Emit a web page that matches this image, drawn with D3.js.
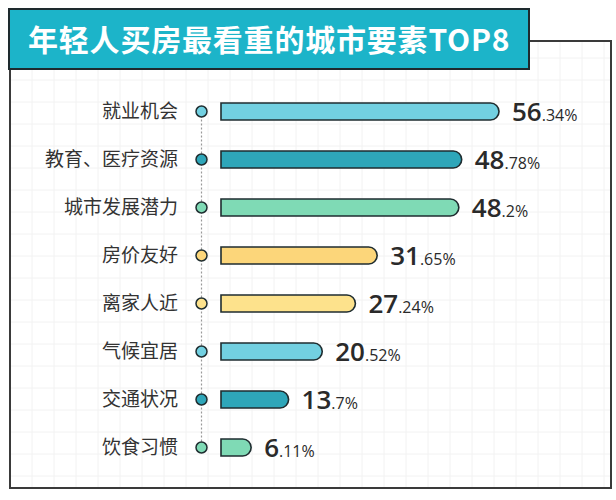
<!DOCTYPE html>
<html>
<head>
<meta charset="utf-8">
<script src="https://cdn.jsdelivr.net/npm/d3@7/dist/d3.min.js"></script>
<style>
  html, body { margin: 0; padding: 0; background: #fff; }
  svg { display: block; }
</style>
</head>
<body>
<svg id="chart" width="616" height="500"></svg>
<script>
const title = "年轻人买房最看重的城市要素TOP8";
const categories = ["就业机会", "教育、医疗资源", "城市发展潜力", "房价友好", "离家人近", "气候宜居", "交通状况", "饮食习惯"];
const values = [56.34, 48.78, 48.2, 31.65, 27.24, 20.52, 13.7, 6.11];
const colors = ["#72d0e1", "#2ea6b9", "#7fdab5", "#fcd67a", "#fde28c", "#72d0e1", "#2ea6b9", "#7fdab5"];

const svg = d3.select("#chart");
const frame = {x: 10, y: 41, w: 601, h: 447};

// grid background
const grid = svg.append("g");
const gx = d3.range(frame.x + 22, frame.x + frame.w, 22);
const gy = d3.range(frame.y + 17, frame.y + frame.h, 22);
grid.selectAll("line.v").data(gx).join("line")
  .attr("x1", d => d).attr("x2", d => d)
  .attr("y1", frame.y).attr("y2", frame.y + frame.h)
  .attr("stroke", "#f2f2f2").attr("stroke-width", 1);
grid.selectAll("line.h").data(gy).join("line")
  .attr("x1", frame.x).attr("x2", frame.x + frame.w)
  .attr("y1", d => d).attr("y2", d => d)
  .attr("stroke", "#f2f2f2").attr("stroke-width", 1);

// frame
svg.append("rect")
  .attr("x", frame.x).attr("y", frame.y)
  .attr("width", frame.w).attr("height", frame.h)
  .attr("fill", "none").attr("stroke", "#3a3a3a").attr("stroke-width", 2);

// title box
svg.append("rect")
  .attr("x", 9).attr("y", 9).attr("width", 520).attr("height", 60)
  .attr("fill", "#1cb4c9").attr("stroke", "#1e2a2e").attr("stroke-width", 2);
svg.append("text")
  .attr("x", 28).attr("y", 51)
  .attr("font-family", "'Noto Sans CJK SC', sans-serif")
  .attr("font-weight", 700).attr("font-size", 30)
  .attr("letter-spacing", 0.8)
  .attr("fill", "#fff")
  .text(title);

// scales
const x = d3.scaleLinear().domain([0, 56.34]).range([221, 499]);
const y = d3.scaleBand().domain(categories).range([87.5, 471.5]);
const cy = d => y(d) + y.bandwidth() / 2;
const barH = 17;
const r = barH / 2;
const dotX = 201.5;

// dotted connector
svg.append("line")
  .attr("x1", dotX).attr("x2", dotX)
  .attr("y1", cy(categories[0])).attr("y2", cy(categories[categories.length - 1]))
  .attr("stroke", "#999").attr("stroke-width", 1.2)
  .attr("stroke-dasharray", "2,2");

const rows = svg.append("g").selectAll("g").data(categories).join("g");

// category labels
rows.append("text")
  .attr("x", 178).attr("y", d => cy(d))
  .attr("dy", "0.36em")
  .attr("text-anchor", "end")
  .attr("font-family", "'Noto Sans CJK SC', sans-serif")
  .attr("font-size", 19).attr("fill", "#333")
  .text(d => d);

// dots
rows.append("circle")
  .attr("cx", dotX).attr("cy", d => cy(d)).attr("r", 5.5)
  .attr("fill", (d, i) => colors[i])
  .attr("stroke", "#1f2d30").attr("stroke-width", 1.5);

// bars: square left, rounded right
rows.append("path")
  .attr("d", (d, i) => {
    const x0 = x(0), x1 = x(values[i]), yc = cy(d);
    const top = yc - r, bot = yc + r;
    const xr = Math.max(x0, x1 - r);
    return `M${x0},${top}H${xr}A${r},${r} 0 0 1 ${xr},${bot}H${x0}Z`;
  })
  .attr("fill", (d, i) => colors[i])
  .attr("stroke", "#1f2d30").attr("stroke-width", 1.6);

// value labels
const vt = rows.append("text")
  .attr("x", (d, i) => x(values[i]) + 13)
  .attr("y", d => cy(d) + 9)
  .attr("font-family", "'Open Sans', 'Noto Sans', sans-serif")
  .attr("fill", "#2a2a2a");
vt.append("tspan")
  .attr("font-size", 26).attr("font-weight", 600)
  .text((d, i) => String(values[i]).split(".")[0]);
vt.append("tspan")
  .attr("font-size", 16).attr("font-weight", 500)
  .text((d, i) => {
    const p = String(values[i]).split(".");
    return (p[1] ? "." + p[1] : "") + "%";
  });
</script>
</body>
</html>
